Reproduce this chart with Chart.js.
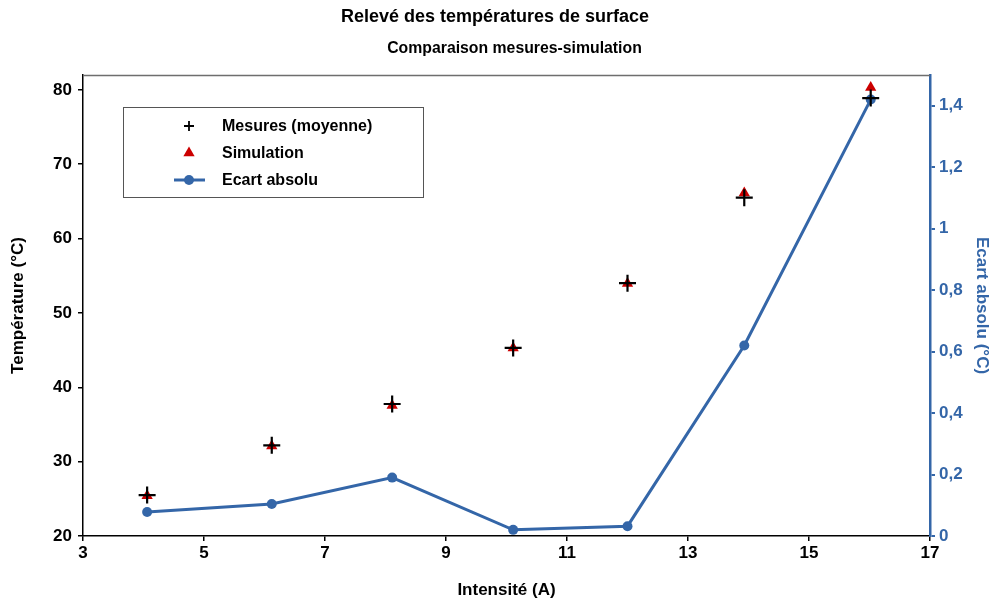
<!DOCTYPE html>
<html lang="fr">
<head>
<meta charset="utf-8">
<title>Relevé des températures de surface</title>
<script src="https://cdn.jsdelivr.net/npm/chart.js@4/dist/chart.umd.min.js"></script>
<style>
  html, body { margin: 0; padding: 0; background: #ffffff; }
  #wrap { width: 990px; height: 601px; position: relative; }
</style>
</head>
<body>
<div id="wrap"><canvas id="c" width="990" height="601"></canvas></div>
<script>
// Intensité du courant (A)
const intensites = [4.06, 6.12, 8.11, 10.11, 12.0, 13.93, 16.02];
// Température mesurée, moyenne (°C)
const mesures = [25.5, 32.2, 37.75, 45.3, 54.0, 65.5, 78.9];
// Température simulée (°C)
const simulation = [25.42, 32.1, 37.56, 45.28, 53.97, 66.12, 80.32];
// Ecart absolu mesure / simulation (°C)
const ecarts = [0.078, 0.104, 0.19, 0.02, 0.032, 0.62, 1.42];
// Graduations des axes
const xTicks = [3, 5, 7, 9, 11, 13, 15, 17];
const yTicks = [20, 30, 40, 50, 60, 70, 80];
const y2Ticks = [0, 0.2, 0.4, 0.6, 0.8, 1, 1.2, 1.4];

const SOUS_TITRE = 'Comparaison mesures-simulation';

const FONT = "'Liberation Sans', Arial, Helvetica, sans-serif";
const BLUE = '#3466a8';
const RED = '#cc0000';

const pts = (ys) => intensites.map((x, i) => ({ x: x, y: ys[i] }));
const setTicks = (vals) => (s) => { s.ticks = vals.map(v => ({ value: v })); };

// Tailles des symboles dans la légende
const legendRadius = [5, 6.5, 5];

// Fond blanc, sous-titre, cadre supérieur et légende encadrée
const framePlugin = {
  id: 'frame',
  beforeDraw(chart) {
    const { ctx } = chart;
    ctx.save();
    ctx.fillStyle = '#ffffff';
    ctx.fillRect(0, 0, chart.width, chart.height);
    ctx.fillStyle = '#000000';
    ctx.font = 'bold 15.8px ' + FONT;
    ctx.textAlign = 'center';
    ctx.textBaseline = 'alphabetic';
    ctx.fillText(SOUS_TITRE, 514.5, 53);
    ctx.restore();
  },
  afterDatasetsDraw(chart) {
    const { ctx, chartArea: a } = chart;
    ctx.save();
    ctx.strokeStyle = '#6e6e6e';
    ctx.lineWidth = 1.5;
    ctx.beginPath();
    ctx.moveTo(a.left, a.top + 0.5);
    ctx.lineTo(a.right, a.top + 0.5);
    ctx.stroke();
    ctx.restore();
  },
  afterDraw(chart) {
    const { ctx } = chart;
    const bx = 123.5, by = 107.5, bw = 300, bh = 90;
    ctx.save();
    ctx.fillStyle = '#ffffff';
    ctx.fillRect(bx, by, bw, bh);
    ctx.strokeStyle = '#555555';
    ctx.lineWidth = 1;
    ctx.strokeRect(bx, by, bw, bh);
    const mx = 189, tx = 222;
    const rows = [126, 153, 180];
    chart.data.datasets.forEach((ds, i) => {
      const y = rows[i];
      if (ds.showLine) {
        ctx.strokeStyle = ds.borderColor;
        ctx.lineWidth = ds.borderWidth;
        ctx.beginPath();
        ctx.moveTo(mx - 15, y);
        ctx.lineTo(mx + 16, y);
        ctx.stroke();
      }
      ctx.fillStyle = ds.pointBackgroundColor;
      ctx.strokeStyle = ds.pointBorderColor;
      ctx.lineWidth = ds.pointBorderWidth ? 1.8 : 0.001;
      Chart.helpers.drawPoint(ctx, {
        pointStyle: ds.pointStyle,
        radius: legendRadius[i],
        borderWidth: ds.pointBorderWidth
      }, mx, y);
      ctx.fillStyle = '#000000';
      ctx.font = 'bold 16px ' + FONT;
      ctx.textBaseline = 'middle';
      ctx.textAlign = 'left';
      ctx.fillText(ds.label, tx, y + 1);
    });
    ctx.restore();
  }
};

new Chart(document.getElementById('c'), {
  type: 'scatter',
  data: {
    datasets: [
      {
        label: 'Mesures (moyenne)',
        data: pts(mesures),
        yAxisID: 'y',
        pointStyle: 'cross',
        pointRadius: 8.5,
        pointBorderWidth: 2.2,
        pointBorderColor: '#000000',
        pointBackgroundColor: '#000000',
        borderColor: '#000000',
        backgroundColor: '#000000',
        showLine: false,
        order: 0
      },
      {
        label: 'Simulation',
        data: pts(simulation),
        yAxisID: 'y',
        pointStyle: 'triangle',
        pointRadius: 6.5,
        pointBorderWidth: 0,
        pointBorderColor: RED,
        pointBackgroundColor: RED,
        borderColor: RED,
        backgroundColor: RED,
        showLine: false,
        order: 1
      },
      {
        label: 'Ecart absolu',
        data: pts(ecarts),
        yAxisID: 'y2',
        pointStyle: 'circle',
        pointRadius: 5,
        pointBorderWidth: 0,
        pointBorderColor: BLUE,
        pointBackgroundColor: BLUE,
        borderColor: BLUE,
        backgroundColor: BLUE,
        borderWidth: 3,
        showLine: true,
        tension: 0,
        order: 2
      }
    ]
  },
  options: {
    responsive: false,
    animation: false,
    devicePixelRatio: 1,
    layout: { padding: { left: 0, right: 0, top: 0, bottom: 0 } },
    plugins: {
      legend: { display: false },
      tooltip: { enabled: false },
      title: {
        display: true,
        text: 'Relevé des températures de surface',
        color: '#000000',
        font: { family: FONT, size: 18, weight: 'bold', lineHeight: 1.2 },
        padding: { top: 6, bottom: 47.4 }
      },
      subtitle: { display: false }
    },
    scales: {
      x: {
        type: 'linear',
        min: 3,
        max: 17,
        afterFit: (s) => { s.height = 65; },
        afterBuildTicks: setTicks(xTicks),
        ticks: {
          color: '#000000',
          font: { family: FONT, size: 17, weight: 'bold' },
          padding: 2
        },
        grid: { display: true, drawOnChartArea: false, drawTicks: true, tickLength: 5, color: '#000000', lineWidth: 1.5 },
        border: { display: true, color: '#000000', width: 1.5 },
        title: {
          display: true,
          text: 'Intensité (A)',
          color: '#000000',
          font: { family: FONT, size: 17, weight: 'bold' },
          padding: { top: 10, bottom: 0 }
        }
      },
      y: {
        type: 'linear',
        position: 'left',
        min: 20,
        max: 82,
        afterFit: (s) => { s.width = 83; },
        afterBuildTicks: setTicks(yTicks),
        ticks: {
          color: '#000000',
          font: { family: FONT, size: 17, weight: 'bold' },
          padding: 6
        },
        grid: { display: true, drawOnChartArea: false, drawTicks: true, tickLength: 5, color: '#000000', lineWidth: 1.5 },
        border: { display: true, color: '#000000', width: 1.5 },
        title: {
          display: true,
          text: 'Température (°C)',
          color: '#000000',
          font: { family: FONT, size: 17, weight: 'bold', lineHeight: 1 },
          padding: { top: 9.5, bottom: 0 }
        }
      },
      y2: {
        type: 'linear',
        position: 'right',
        min: 0,
        max: 1.5,
        afterFit: (s) => { s.width = 60; },
        afterBuildTicks: setTicks(y2Ticks),
        ticks: {
          color: BLUE,
          font: { family: FONT, size: 17, weight: 'bold' },
          padding: 4,
          callback: (v) => {
            const r = Math.round(v * 10) / 10;
            return Number.isInteger(r) ? String(r) : r.toFixed(1).replace('.', ',');
          }
        },
        grid: { display: true, drawOnChartArea: false, drawTicks: true, tickLength: 5, color: BLUE, lineWidth: 2 },
        border: { display: true, color: BLUE, width: 2.5 },
        title: {
          display: true,
          text: 'Ecart absolu (°C)',
          color: BLUE,
          font: { family: FONT, size: 17, weight: 'bold', lineHeight: 1 },
          padding: { top: 0, bottom: 0 }
        }
      }
    }
  },
  plugins: [framePlugin]
});
</script>
</body>
</html>
